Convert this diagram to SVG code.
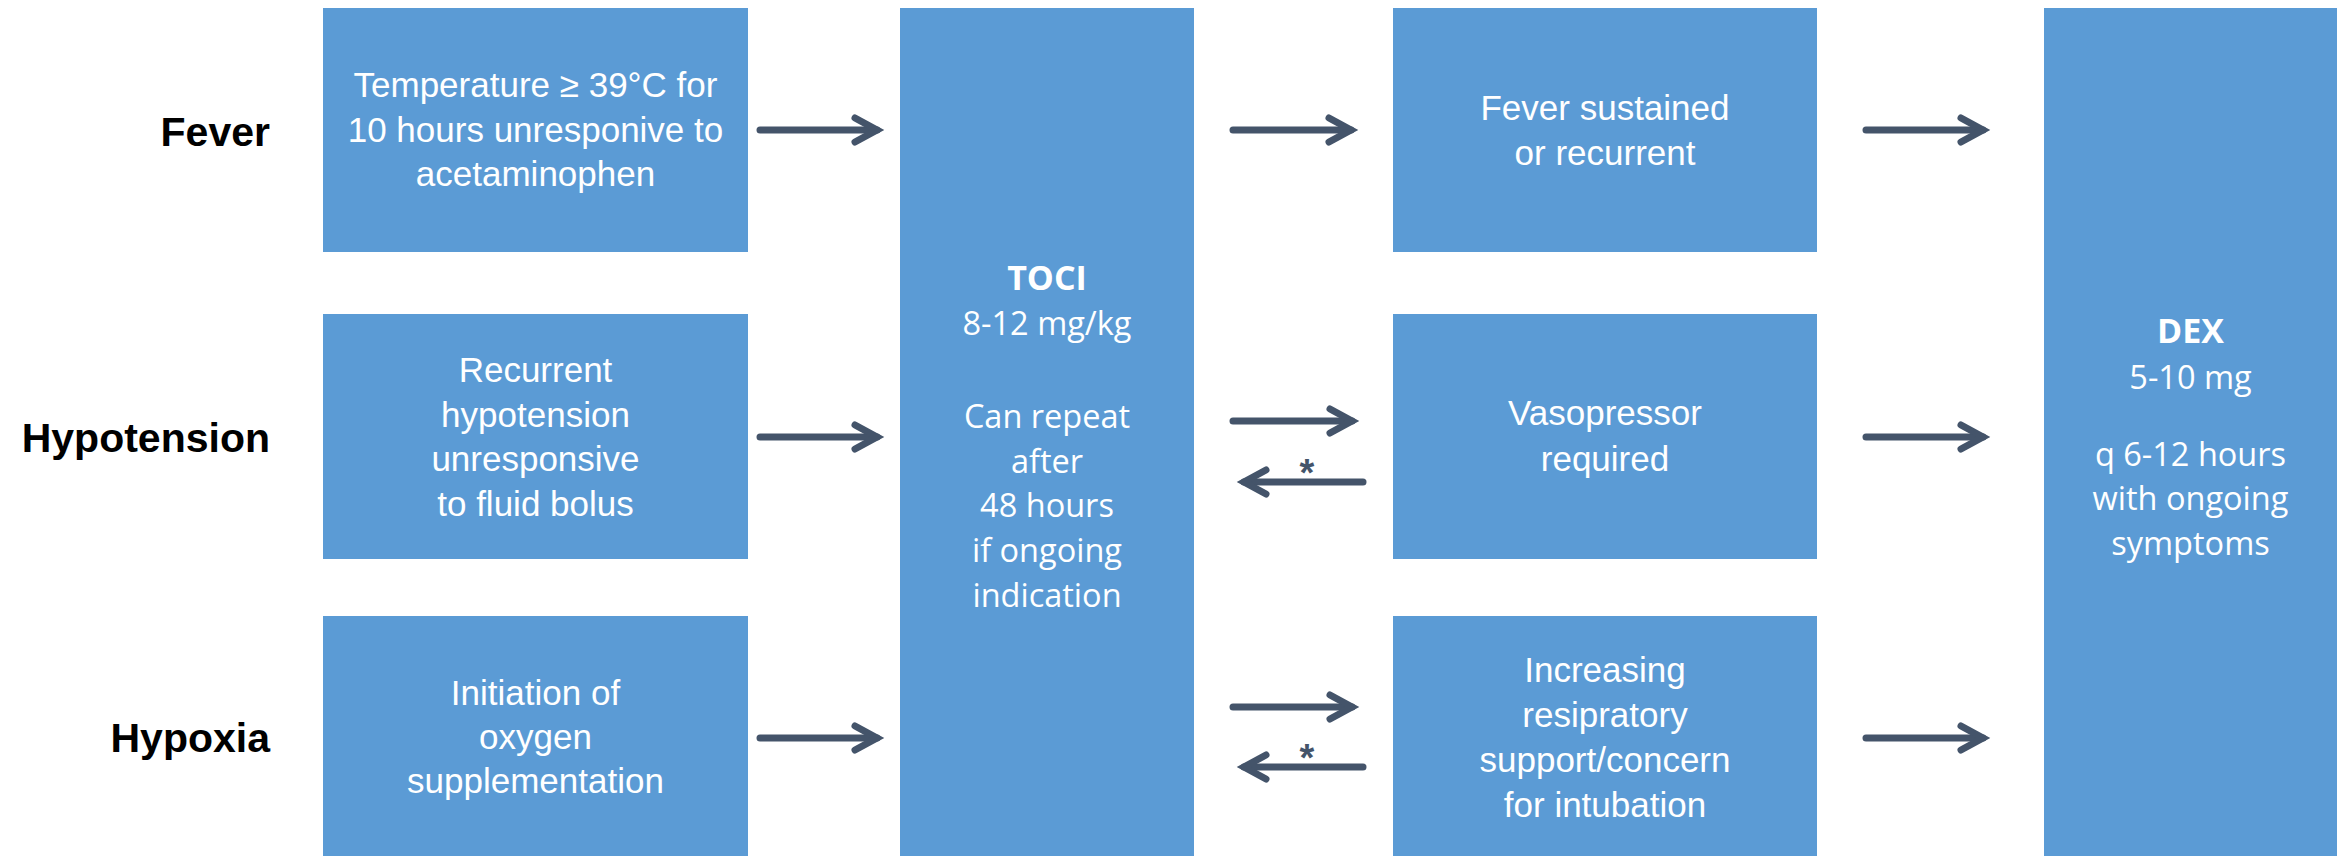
<svg xmlns="http://www.w3.org/2000/svg" width="2346" height="856" viewBox="0 0 2346 856">
<style>
.box{fill:#5B9BD5}
.lbl{font-family:"Liberation Sans",Arial,sans-serif;font-weight:bold;font-size:41px;fill:#000;text-anchor:end}
.t{font-family:"Liberation Sans",Arial,sans-serif;font-size:35px;fill:#fff;text-anchor:middle}
.d{font-family:"Open Sans","Liberation Sans",sans-serif;font-size:32.5px;fill:#fff;text-anchor:middle}
.db{font-weight:bold;font-size:34px}
.arr{fill:none;stroke:#44546A;stroke-width:7;stroke-linecap:round;marker-end:url(#ah)}
.ast{font-family:"Liberation Sans",Arial,sans-serif;font-weight:bold;font-size:38px;fill:#44546A;text-anchor:middle}
</style>
<defs>
<marker id="ah" markerUnits="userSpaceOnUse" viewBox="-40 -20 60 40" refX="0" refY="0" markerWidth="60" markerHeight="40" orient="auto">
<path d="M-22 -12 L0 0 L-22 12" fill="none" stroke="#44546A" stroke-width="7" stroke-linecap="round" stroke-linejoin="miter"/>
</marker>
</defs>
<rect width="2346" height="856" fill="#fff"/>

<g id="label-fever"><text class="lbl" x="270" y="146">Fever</text></g>
<g id="label-hypotension"><text class="lbl" x="270" y="452">Hypotension</text></g>
<g id="label-hypoxia"><text class="lbl" x="270" y="752">Hypoxia</text></g>

<g id="fever-trigger">
<rect class="box" x="323" y="8" width="425" height="244"/>
<text class="t" x="535.5" y="97">Temperature ≥ 39°C for</text>
<text class="t" x="535.5" y="142">10 hours unresponive to</text>
<text class="t" x="535.5" y="186">acetaminophen</text>
</g>
<g id="hypotension-trigger">
<rect class="box" x="323" y="314" width="425" height="245"/>
<text class="t" x="535.5" y="382">Recurrent</text>
<text class="t" x="535.5" y="427">hypotension</text>
<text class="t" x="535.5" y="471">unresponsive</text>
<text class="t" x="535.5" y="516">to fluid bolus</text>
</g>
<g id="hypoxia-trigger">
<rect class="box" x="323" y="616" width="425" height="240"/>
<text class="t" x="535.5" y="705">Initiation of</text>
<text class="t" x="535.5" y="749">oxygen</text>
<text class="t" x="535.5" y="793">supplementation</text>
</g>

<g id="toci">
<rect class="box" x="900" y="8" width="294" height="848"/>
<text class="d db" x="1047" y="290">TOCI</text>
<text class="d" x="1047" y="335">8-12 mg/kg</text>
<text class="d" x="1047" y="428">Can repeat</text>
<text class="d" x="1047" y="473">after</text>
<text class="d" x="1047" y="517">48 hours</text>
<text class="d" x="1047" y="562">if ongoing</text>
<text class="d" x="1047" y="607">indication</text>
</g>

<g id="fever-sustained">
<rect class="box" x="1393" y="8" width="424" height="244"/>
<text class="t" x="1605" y="120">Fever sustained</text>
<text class="t" x="1605" y="165">or recurrent</text>
</g>
<g id="vasopressor">
<rect class="box" x="1393" y="314" width="424" height="245"/>
<text class="t" x="1605" y="425">Vasopressor</text>
<text class="t" x="1605" y="471">required</text>
</g>
<g id="respiratory">
<rect class="box" x="1393" y="616" width="424" height="240"/>
<text class="t" x="1605" y="682">Increasing</text>
<text class="t" x="1605" y="727">resipratory</text>
<text class="t" x="1605" y="772">support/concern</text>
<text class="t" x="1605" y="817">for intubation</text>
</g>

<g id="dex">
<rect class="box" x="2044" y="8" width="293" height="848"/>
<text class="d db" x="2190.5" y="343">DEX</text>
<text class="d" x="2190.5" y="389">5-10 mg</text>
<text class="d" x="2190.5" y="466">q 6-12 hours</text>
<text class="d" x="2190.5" y="510">with ongoing</text>
<text class="d" x="2190.5" y="555">symptoms</text>
</g>

<g id="connectors">
<path class="arr" d="M760 130 H877"/>
<path class="arr" d="M1233 130 H1351"/>
<path class="arr" d="M1866 130 H1983"/>
<path class="arr" d="M760 437 H877"/>
<path class="arr" d="M1233 421 H1352"/>
<path class="arr" d="M1363 482 H1244"/>
<path class="arr" d="M1866 437 H1983"/>
<path class="arr" d="M760 738 H877"/>
<path class="arr" d="M1233 707 H1352"/>
<path class="arr" d="M1363 767 H1244"/>
<path class="arr" d="M1866 738 H1983"/>
<text class="ast" x="1307" y="486">*</text>
<text class="ast" x="1307" y="771">*</text>
</g>
</svg>
